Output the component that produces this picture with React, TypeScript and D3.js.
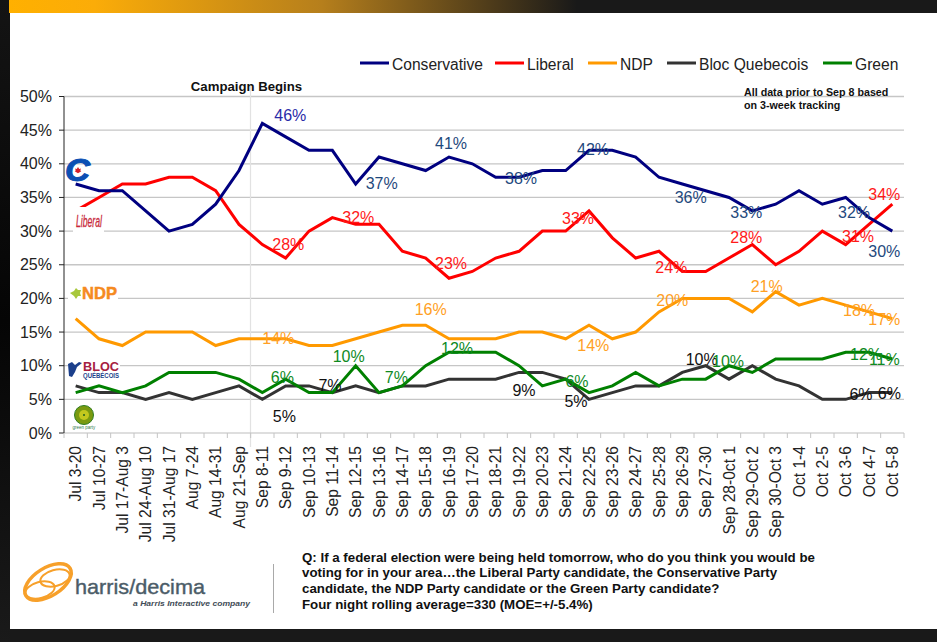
import React from "react";
import * as d3 from "d3";

const categories = ["Jul 3-20","Jul 10-27","Jul 17-Aug 3","Jul 24-Aug 10","Jul 31-Aug 17","Aug 7-24","Aug 14-31","Aug 21-Sep","Sep 8-11","Sep 9-12","Sep 10-13","Sep 11-14","Sep 12-15","Sep 13-16","Sep 14-17","Sep 15-18","Sep 16-19","Sep 17-20","Sep 18-21","Sep 19-22","Sep 20-23","Sep 21-24","Sep 22-25","Sep 23-26","Sep 24-27","Sep 25-28","Sep 26-29","Sep 27-30","Sep 28-0ct 1","Sep 29-Oct 2","Sep 30-Oct 3","Oct 1-4","Oct 2-5","Oct 3-6","Oct 4-7","Oct 5-8"];
const conservative = [37,36,36,33,30,31,34,39,46,44,42,42,37,41,40,39,41,40,38,38,39,39,42,42,41,38,37,36,35,33,34,36,34,35,32,30];
const liberal = [33,35,37,37,38,38,36,31,28,26,30,32,31,31,27,26,23,24,26,27,30,30,33,29,26,27,24,24,26,28,25,27,30,28,31,34];
const ndp = [17,14,13,15,15,15,13,14,14,14,13,13,14,15,16,16,14,14,14,15,15,14,16,14,15,18,20,20,20,18,21,19,20,19,18,17];
const bloc = [7,6,6,5,6,5,6,7,5,7,7,6,7,6,7,7,8,8,8,9,9,8,5,6,7,7,9,10,8,10,8,7,5,5,6,6];
const green = [6,7,6,7,9,9,9,8,6,8,6,6,10,6,7,10,12,12,12,10,7,8,6,7,9,7,8,8,10,9,11,11,11,12,12,11];
const yTicks = [0,5,10,15,20,25,30,35,40,45,50];
const questionLines = [
  "Q: If a federal election were being held tomorrow, who do you think you would be",
  "voting for in your area\u2026the Liberal Party candidate, the Conservative Party",
  "candidate, the NDP Party candidate or the Green Party candidate?",
  "Four night rolling average=330 (MOE=+/-5.4%)",
];
const noteLines = ["All data prior to Sep 8 based", "on 3-week tracking"];

// Labelled points: [category index, horizontal nudge, vertical nudge]
const conservativeLabels = [[8,28,-8],[12,26,0],[16,2,-14],[19,2,1],[22,4,-1],[27,-15,7],[29,-6,2],[34,-15,-5],[35,-8,20]];
const liberalLabels = [[8,26,0],[11,26,0],[16,2,-15],[22,-11,8],[26,-11,-4],[29,-6,-7],[34,-11,12],[35,-8,-10]];
const ndpLabels = [[8,16,0],[15,5,-16],[23,-19,7],[26,-10,2],[30,-9,-5],[34,-10,-1],[35,-8,1]];
const blocLabels = [[8,22,17],[10,21,0],[19,5,18],[22,-13,2],[27,-4,-6],[34,-8,2],[35,-3,1]];
const greenLabels = [[8,20,-15],[12,-7,-9],[14,-6,-8],[16,8,-4],[22,-12,-11],[28,-1,-4],[34,-3,2],[35,-8,1]];

const series = [
  { name: "Conservative", values: conservative, color: "#000080", labelColor: "#1f497d", labels: conservativeLabels, lx: 360 },
  { name: "Liberal", values: liberal, color: "#ff0000", labelColor: "#ff1a1a", labels: liberalLabels, lx: 495 },
  { name: "NDP", values: ndp, color: "#ff9900", labelColor: "#ffa024", labels: ndpLabels, lx: 588 },
  { name: "Bloc Quebecois", values: bloc, color: "#333333", labelColor: "#111111", labels: blocLabels, lx: 667 },
  { name: "Green", values: green, color: "#008000", labelColor: "#0f8a1f", labels: greenLabels, lx: 823 },
];
// Draw order: bloc beneath green, as in the source.
const drawOrder = [3, 4, 2, 1, 0];

const FONT = "'Liberation Sans', Arial, sans-serif";
const L = 64, R = 904, T = 96.5, B = 433;

export default function App() {
  const x = d3.scaleBand<string>().domain(categories).range([L, R]);
  const y = d3.scaleLinear().domain([0, 50]).range([B, T]);
  const cx = (i: number) => (x(categories[i]) as number) + x.bandwidth() / 2;
  const line = d3.line<number>().x((_, i) => cx(i)).y((d) => y(d));

  return (
    <svg width={937} height={642} viewBox="0 0 937 642" style={{ position: "absolute", left: 0, top: 0, display: "block" }} fontFamily={FONT}>
      <defs>
        <linearGradient id="topbar" x1="0" x2="1" y1="0" y2="0">
          <stop offset="0" stopColor="#ffb000" />
          <stop offset="0.15" stopColor="#fbac08" />
          <stop offset="0.55" stopColor="#b67f1c" />
          <stop offset="1" stopColor="#191919" />
        </linearGradient>
        <linearGradient id="leftdark" x1="0" x2="0" y1="0" y2="1">
          <stop offset="0" stopColor="#141414" />
          <stop offset="0.5" stopColor="#050505" />
          <stop offset="1" stopColor="#1a1a1a" />
        </linearGradient>
      </defs>
      <rect x={0} y={0} width={937} height={642} fill="#191919" />
      <rect x={0} y={0} width={10} height={642} fill="url(#leftdark)" />
      <rect x={9} y={0} width={568} height={13} fill="url(#topbar)" />
      <rect x={10} y={13} width={927} height={616} fill="#ffffff" />

      {/* gridlines */}
      {yTicks.slice(1).map((t) => (
        <line key={t} x1={L} x2={R} y1={y(t)} y2={y(t)} stroke="#c6c6c6" strokeWidth={1.3} />
      ))}
      <line x1={250.5} x2={250.5} y1={84} y2={447} stroke="#e2e2e2" strokeWidth={1.2} />

      {/* axes */}
      <line x1={L} x2={R} y1={B} y2={B} stroke="#bdbdbd" strokeWidth={1.2} />
      <line x1={L} x2={L} y1={T} y2={B} stroke="#222222" strokeWidth={1} />
      {yTicks.map((t) => (
        <g key={t}>
          <line x1={59} x2={L} y1={y(t)} y2={y(t)} stroke="#222222" strokeWidth={1} />
          <text x={52} y={y(t)} textAnchor="end" dominantBaseline="central" fontSize={16} fill="#222">{t}%</text>
        </g>
      ))}
      {d3.range(categories.length + 1).map((i) => {
        const px = L + i * x.bandwidth();
        return <line key={i} x1={px} x2={px} y1={B} y2={B + 5} stroke="#c4c4c4" strokeWidth={1} />;
      })}
      {categories.map((c, i) => (
        <text key={c} transform={`translate(${cx(i)},446) rotate(-90)`} textAnchor="end" dominantBaseline="central" fontSize={15.6} fill="#222">{c}</text>
      ))}

      {/* series */}
      {drawOrder.map((k) => (
        <path key={series[k].name} d={line(series[k].values) ?? ""} fill="none" stroke={series[k].color} strokeWidth={3} strokeLinejoin="miter" />
      ))}

      {/* data labels */}
      {series.map((s) =>
        s.labels.map(([i, dx, dy]) => (
          <text key={s.name + i} x={cx(i) + dx} y={y(s.values[i]) + dy} textAnchor="middle" dominantBaseline="central" fontSize={16}
            fill={s.name === "Conservative" && i === 8 ? "#2a2aa8" : s.labelColor}>{s.values[i]}%</text>
        ))
      )}

      {/* legend */}
      {series.map((s) => (
        <g key={s.name}>
          <line x1={s.lx} x2={s.lx + 29} y1={63} y2={63} stroke={s.color} strokeWidth={3} />
          <text x={s.lx + 32} y={64} dominantBaseline="central" fontSize={15.6} fill="#222">{s.name}</text>
        </g>
      ))}

      <text x={246.5} y={86.5} textAnchor="middle" dominantBaseline="central" fontSize={13.2} fontWeight="bold" fill="#111">Campaign Begins</text>
      {noteLines.map((n, i) => (
        <text key={n} x={744} y={92 + i * 13} dominantBaseline="central" fontSize={10.7} fontWeight="bold" fill="#111">{n}</text>
      ))}

      {/* party marks */}
      <g>
        <text x={65} y={181} fontSize={31} fontWeight="bold" fontStyle="italic" fill="#0b4fb3" stroke="#0b4fb3" strokeWidth={1} textLength={25} lengthAdjust="spacingAndGlyphs">C</text>
        <path d="M78 167l1.2 2 1.7-0.4-0.6 2 1 0.6-3.3 2-3.3-2 1-0.6-0.6-2 1.7 0.4z" fill="#d4202a" />
        <rect x={73} y={207} width={31} height={26} fill="#ffffff" />
        <text x={76} y={227} fontSize={16} fontStyle="italic" fill="#c8283a" stroke="#c8283a" strokeWidth={0.3} textLength={26} lengthAdjust="spacingAndGlyphs">Liberal</text>
        <rect x={68} y={286} width={50} height={15} fill="#ffffff" />
        <path d="M70 293l4-2 2-3 2 2 3 0-1 3 1 3-3 0-2 3-2-3z" fill="#a8c83c" />
        <text x={82} y={299} fontSize={17} fontWeight="bold" fill="#f58a1f" stroke="#f58a1f" strokeWidth={0.5} textLength={35} lengthAdjust="spacingAndGlyphs">NDP</text>
        <rect x={68} y={360} width={52} height={18} fill="#ffffff" />
        <path d="M68 364l4-2 3 3 4-3 3 1-5 4-2 5-3 5-3-1z" fill="#1b3f8b" />
        <text x={83} y={371} fontSize={13.5} fontWeight="bold" fill="#a6203f" textLength={36} lengthAdjust="spacingAndGlyphs">BLOC</text>
        <text x={83} y={378} fontSize={6.5} fontWeight="bold" fill="#1b3f8b" textLength={36} lengthAdjust="spacingAndGlyphs">QUÉBÉCOIS</text>
        <circle cx={84} cy={415} r={9.5} fill="#7a9a10" stroke="#2f7d22" strokeWidth={1} />
        <circle cx={84} cy={415} r={5} fill="#c2c81e" />
        <circle cx={84} cy={415} r={1} fill="#1b5e20" />
        <text x={84} y={429} fontSize={4.5} textAnchor="middle" fill="#2f7d4a">green party</text>
      </g>

      {/* company mark */}
      <g fill="none" stroke="#f7a02a">
        <ellipse cx={48} cy={582} rx={26} ry={14} transform="rotate(-32 48 582)" strokeWidth={3.5} />
        <ellipse cx={40} cy={590} rx={15} ry={8} transform="rotate(-15 40 590)" strokeWidth={2} />
        <ellipse cx={55} cy={578} rx={15} ry={8} transform="rotate(-15 55 578)" strokeWidth={2} />
      </g>
      <text x={75} y={586} dominantBaseline="central" fontSize={21} fill="#4b5c68" stroke="#4b5c68" strokeWidth={0.4} textLength={130} lengthAdjust="spacingAndGlyphs">harris/decima</text>
      <text x={133} y={603} dominantBaseline="central" fontSize={8} fontStyle="italic" fontWeight="bold" fill="#3f4c56" textLength={117} lengthAdjust="spacingAndGlyphs">a Harris Interactive company</text>
      <line x1={273.5} x2={273.5} y1={564} y2={613} stroke="#a9a9a9" strokeWidth={1} />

      {questionLines.map((q, i) => (
        <text key={q} x={302} y={557 + i * 15.8} dominantBaseline="central" fontSize={13.3} fontWeight="bold" fill="#111">{q}</text>
      ))}
    </svg>
  );
}
